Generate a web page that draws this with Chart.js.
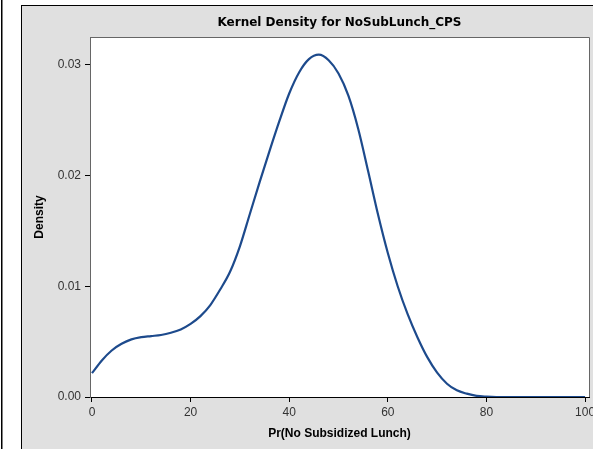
<!DOCTYPE html>
<html>
<head>
<meta charset="utf-8">
<script src="https://cdn.jsdelivr.net/npm/chart.js@4.4.1/dist/chart.umd.min.js"></script>
<style>
html,body{margin:0;padding:0;background:#fff;}
canvas{display:block;}
</style>
</head>
<body>
<canvas id="c" width="593" height="449" style="width:593px;height:449px"></canvas>
<script>
// Data
const xValues = [0,2,4,6,8,10,12,14,16,18,20,22,24,26,28,30,32,34,36,38,40,42,44,46,48,50,52,54,56,58,60,62,64,66,68,70,72,74,76,78,80,82,84,86,88,90,92,94,96,98,100];
const densityValues = [0.00215,0.0033,0.0042,0.0048,0.0052,0.0054,0.0055,0.0056,0.0058,0.0061,0.0066,0.0073,0.0083,0.0097,0.0113,0.0136,0.0165,0.0194,0.0222,0.0249,0.0274,0.0293,0.0305,0.0309,0.0304,0.0292,0.0272,0.0242,0.0204,0.0165,0.0130,0.0100,0.0075,0.0054,0.0036,0.0022,0.0012,0.0006,0.0003,0.0001,0.00003,0,0,0,0,0,0,0,0,0,0];
const xTicks = [0,20,40,60,80,100];
const yTicks = [0.00,0.01,0.02,0.03];
const chartTitle = 'Kernel Density for NoSubLunch_CPS';
const xTitle = 'Pr(No Subsidized Lunch)';
const yTitle = 'Density';

const points = xValues.map((x,i)=>({x:x, y:densityValues[i]}));

const framePlugin = {
  id:'frame',
  beforeDraw(chart){
    const ctx = chart.ctx;
    const W = chart.width, H = chart.height;
    ctx.save();
    ctx.fillStyle = '#ffffff';
    ctx.fillRect(0,0,W,H);
    ctx.fillStyle = '#000';
    ctx.fillRect(1,0,1.5,H);
    ctx.fillStyle = '#e0e0e0';
    ctx.fillRect(21,5,W-21,H-5);
    ctx.fillStyle = '#000';
    ctx.fillRect(21,5,W-21,1);
    ctx.fillRect(21,5,1,H-5);
    const a = chart.chartArea;
    ctx.fillStyle = '#ffffff';
    ctx.fillRect(a.left,a.top,a.right-a.left,a.bottom-a.top);
    ctx.restore();
  },
  afterDatasetsDraw(chart){
    const ctx = chart.ctx;
    const a = chart.chartArea;
    ctx.save();
    ctx.strokeStyle = '#666';
    ctx.lineWidth = 1;
    ctx.beginPath();
    ctx.moveTo(a.left, a.top+0.5);
    ctx.lineTo(a.right+0.5, a.top+0.5);
    ctx.lineTo(a.right+0.5, a.bottom);
    ctx.stroke();
    ctx.restore();
  }
};

new Chart(document.getElementById('c'), {
  type:'scatter',
  data:{datasets:[{
    data:points,
    showLine:true,
    borderColor:'#1d4a8c',
    borderWidth:2.2,
    pointRadius:0,
    cubicInterpolationMode:'monotone',
    fill:false
  }]},
  options:{
    responsive:false,
    animation:false,
    devicePixelRatio:1,
    layout:{padding:{left:22,right:4,top:0,bottom:0}},
    plugins:{
      legend:{display:false},
      tooltip:{enabled:false},
      title:{
        display:true,
        text:chartTitle,
        fullSize:false,
        color:'#000',
        font:{family:'"DejaVu Sans", sans-serif',size:12,weight:'bold',lineHeight:1.2},
        padding:{top:15.5,bottom:7.1}
      }
    },
    scales:{
      x:{
        type:'linear',
        min:-0.4,
        max:100.8,
        afterFit(s){ s.height = 52; s.paddingLeft = 0; s.paddingRight = 0; },
        afterBuildTicks(s){ s.ticks = xTicks.map(v=>({value:v})); },
        ticks:{
          color:'#333',
          font:{family:'"Liberation Sans", Arial, sans-serif',size:12},
          padding:3,
          maxRotation:0,
          callback:v=>String(v)
        },
        grid:{drawOnChartArea:false,drawTicks:true,tickLength:5,color:'#000',lineWidth:1},
        border:{display:true,color:'#000',width:1},
        title:{
          display:true,
          text:xTitle,
          color:'#000',
          font:{family:'"Liberation Sans", Arial, sans-serif',size:12,weight:'bold',lineHeight:1.2},
          padding:{top:4,bottom:8}
        }
      },
      y:{
        type:'linear',
        min:0,
        max:0.0325,
        afterFit(s){ s.width = 68; s.paddingTop = 0; s.paddingBottom = 0; },
        afterBuildTicks(s){ s.ticks = yTicks.map(v=>({value:v})); },
        ticks:{
          color:'#333',
          font:{family:'"Liberation Sans", Arial, sans-serif',size:12},
          padding:4,
          callback:v=>Number(v).toFixed(2)
        },
        grid:{drawOnChartArea:false,drawTicks:true,tickLength:5,color:'#000',lineWidth:1},
        border:{display:true,color:'#666',width:1},
        title:{
          display:true,
          text:yTitle,
          color:'#000',
          font:{family:'"Liberation Sans", Arial, sans-serif',size:12,weight:'bold',lineHeight:1.2},
          padding:{top:10,bottom:4}
        }
      }
    }
  },
  plugins:[framePlugin]
});
</script>
</body>
</html>
